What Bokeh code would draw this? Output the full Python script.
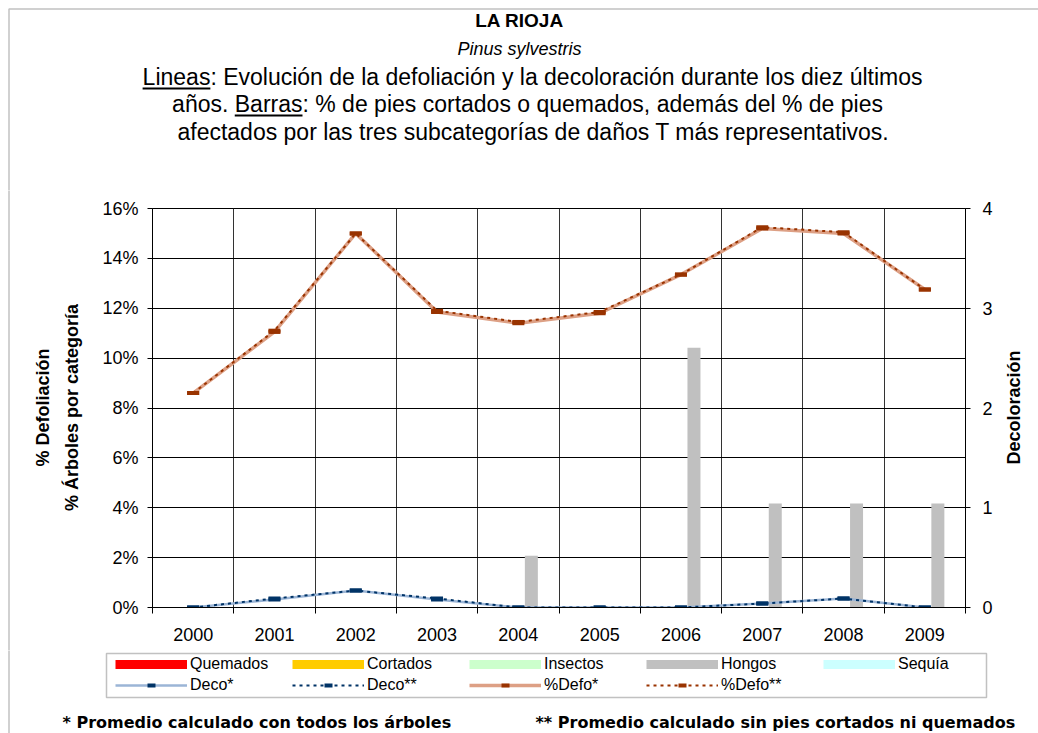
from bokeh.plotting import figure
from bokeh.layouts import column, row
from bokeh.models import (Range1d, LinearAxis, FixedTicker, Label, BoxAnnotation,
                          Legend, LegendItem, CustomJSTickFormatter)
from bokeh.embed import file_html
from bokeh.resources import INLINE
import math

# ---------------- data ----------------
years = ["2000", "2001", "2002", "2003", "2004", "2005", "2006", "2007", "2008", "2009"]

quemados = [0, 0, 0, 0, 0, 0, 0, 0, 0, 0]
cortados = [0, 0, 0, 0, 0, 0, 0, 0, 0, 0]
insectos = [0, 0, 0, 0, 0, 0, 0, 0, 0, 0]
hongos = [0, 0, 0, 0, 2.08, 0, 10.42, 4.17, 4.17, 4.17]
sequia = [0, 0, 0, 0, 0, 0, 0, 0, 0, 0]

deco_todos = [0.0, 0.08, 0.17, 0.08, 0.0, 0.0, 0.0, 0.04, 0.09, 0.0]
deco_sin = [0.0, 0.09, 0.17, 0.09, 0.0, 0.0, 0.0, 0.04, 0.09, 0.0]
defo_todos = [8.6, 11.05, 15.0, 11.85, 11.4, 11.8, 13.35, 15.2, 15.0, 12.75]
defo_sin = [8.6, 11.1, 15.0, 11.9, 11.45, 11.85, 13.35, 15.25, 15.05, 12.75]

pct_ticks = [0, 2, 4, 6, 8, 10, 12, 14, 16]
deco_ticks = [0, 1, 2, 3, 4]

bar_names = ["Quemados", "Cortados", "Insectos", "Hongos", "Sequía"]
bar_colors = ["#FF0000", "#FFCC00", "#CCFFCC", "#C0C0C0", "#CCFFFF"]
bar_values = [quemados, cortados, insectos, hongos, sequia]

# ---------------- page layout (pixels) ----------------
PW, PH = 1038, 733
TOP_H = 190            # title block
MID_TOP, MID_BOT = 190, 650
LW, MW, RW = 90, 910, 38
FL, FR, FT, FB = 152, 965, 208, 607   # plot area in page pixels
NCAT = len(years)
FONT = "Liberation Sans"
BORDER = "#333333"
NAVY = "#003366"
BROWN = "#993300"


def blank_fig(w, h):
    f = figure(width=w, height=h, title=None, x_range=Range1d(0, w), y_range=Range1d(0, h),
               x_axis_type=None, y_axis_type=None, output_backend="svg",
               toolbar_location=None, min_border=0, frame_align=False)
    f.outline_line_color = None
    f.background_fill_color = "white"
    f.border_fill_color = "white"
    return f


def add_label(f, text, x, y, size, style="normal", align="left", baseline="middle",
              angle=0.0, font=FONT):
    f.add_layout(Label(x=x, y=y, text=text, text_font=font, text_font_size=size,
                       text_font_style=style, text_align=align, text_baseline=baseline,
                       angle=angle, text_color="black"))


# ================= title block =================
T = blank_fig(PW, TOP_H)


def ty(y):
    return TOP_H - y


add_label(T, "LA RIOJA", 519, ty(20), "19px", "bold", "center")
add_label(T, "Pinus sylvestris", 519, ty(48), "18px", "italic", "center")
DS = 23
line1 = "Lineas: Evolución de la defoliación y la decoloración durante los diez últimos"
line2 = "años. Barras: % de pies cortados o quemados, además del % de pies"
line3 = "afectados por las tres subcategorías de daños T más representativos."
l1_left = 532 - 33.904 * DS / 2
l2_left = 527 - 30.904 * DS / 2
add_label(T, line1, l1_left, ty(76), f"{DS}px")
add_label(T, line2, l2_left, ty(103), f"{DS}px")
add_label(T, line3, 533, ty(131), f"{DS}px", align="center")
u1_right = l1_left + 2.946 * DS
u2_left = l2_left + 2.724 * DS
u2_right = u2_left + 2.945 * DS
T.add_layout(BoxAnnotation(left=l1_left, right=u1_right, top=ty(87), bottom=ty(89),
                           fill_color="black", fill_alpha=1, line_color=None))
T.add_layout(BoxAnnotation(left=u2_left, right=u2_right, top=ty(114), bottom=ty(116),
                           fill_color="black", fill_alpha=1, line_color=None))
T.add_layout(BoxAnnotation(left=8.5, right=PW + 50, top=ty(8.5), bottom=ty(PH + 50),
                           fill_alpha=0, line_color=BORDER, line_width=1.5))

# ================= left titles =================
MID_H = MID_BOT - MID_TOP
L = blank_fig(LW, MID_H)
add_label(L, "% Defoliación", 42, MID_BOT - 407, "18px", "bold", "center", "middle", math.pi / 2)
add_label(L, "% Árboles por categoría", 71, MID_BOT - 407, "18px", "bold", "center", "middle",
          math.pi / 2)
L.add_layout(BoxAnnotation(left=8.5, right=PW, top=MID_H + 50, bottom=-50,
                           fill_alpha=0, line_color=BORDER, line_width=1.5))

# ================= right title =================
R = blank_fig(RW, MID_H)
add_label(R, "Decoloración", 1013 - (LW + MW), MID_BOT - 407, "18px", "bold", "center",
          "middle", math.pi / 2)

# ================= main chart =================
YMAX = pct_ticks[-1]
p = figure(width=MW, height=MID_H, title=None,
           x_range=Range1d(0, NCAT), y_range=Range1d(0, YMAX),
           output_backend="svg", toolbar_location=None, frame_align=False,
           min_border_left=FL - LW, min_border_right=(LW + MW) - FR,
           min_border_top=FT - MID_TOP, min_border_bottom=MID_BOT - FB)
p.background_fill_color = "white"
p.border_fill_color = "white"
p.outline_line_color = "black"

centers = [i + 0.5 for i in range(NCAT)]
bounds = list(range(NCAT + 1))

xa = p.xaxis[0]
xa.ticker = FixedTicker(ticks=centers, minor_ticks=bounds)
xa.formatter = CustomJSTickFormatter(args=dict(labels=years), code="""
const i = Math.round(tick - 0.5);
return (i >= 0 && i < labels.length) ? labels[i] : '';
""")
xa.major_tick_out = 0
xa.major_tick_in = 0
xa.minor_tick_out = 6
xa.minor_tick_in = 0
xa.minor_tick_line_color = "black"
xa.axis_line_color = "black"
xa.major_label_text_font = FONT
xa.major_label_text_font_size = "18px"
xa.major_label_text_color = "black"
xa.major_label_standoff = 14

ya = p.yaxis[0]
ya.ticker = FixedTicker(ticks=pct_ticks)
ya.formatter = CustomJSTickFormatter(code="return tick.toFixed(0) + '%';")
ya.major_tick_out = 5
ya.major_tick_in = 0
ya.minor_tick_line_color = None
ya.axis_line_color = "black"
ya.major_tick_line_color = "black"
ya.major_label_text_font = FONT
ya.major_label_text_font_size = "18px"
ya.major_label_text_color = "black"
ya.major_label_standoff = 9

p.extra_y_ranges = {"deco": Range1d(0, deco_ticks[-1])}
ra = LinearAxis(y_range_name="deco", ticker=FixedTicker(ticks=deco_ticks))
ra.major_tick_out = 5
ra.major_tick_in = 0
ra.minor_tick_line_color = None
ra.axis_line_color = "black"
ra.major_tick_line_color = "black"
ra.major_label_text_font = FONT
ra.major_label_text_font_size = "18px"
ra.major_label_text_color = "black"
ra.major_label_standoff = 12
p.add_layout(ra, "right")

p.xgrid.ticker = FixedTicker(ticks=bounds)
p.xgrid.grid_line_color = "#333333"
p.ygrid.ticker = FixedTicker(ticks=pct_ticks)
p.ygrid.grid_line_color = "black"

BW = 0.16
for k, (vals, col) in enumerate(zip(bar_values, bar_colors)):
    xs = [c + (k - 2) * BW for c in centers]
    p.vbar(x=xs, top=vals, width=BW, fill_color=col, line_color=None)

line_styles = [
    ("Deco*", deco_todos, "deco", dict(line_color="#9BB5D6", line_width=2.5), NAVY),
    ("Deco**", deco_sin, "deco", dict(line_color=NAVY, line_width=2, line_dash="3 4"), NAVY),
    ("%Defo*", defo_todos, "default", dict(line_color="#DDA085", line_width=3.5), BROWN),
    ("%Defo**", defo_sin, "default", dict(line_color=BROWN, line_width=2, line_dash="3 4"), BROWN),
]
for name, vals, rng, lstyle, mcol in line_styles:
    p.line(centers, vals, y_range_name=rng, **lstyle)
    p.scatter(centers, vals, y_range_name=rng, marker="dash", size=12, line_width=4,
              line_color=mcol)

# ================= bottom: legend + footnotes =================
BH = PH - MID_BOT
B = blank_fig(PW, BH)


def by(y):
    return PH - y


# legend sample glyphs: kept outside the visible range of this strip
OFF_X = [-100, -90]
OFF_Y = [-100, -100]
items = []
for name, col in zip(bar_names, bar_colors):
    sw = B.line(x=OFF_X, y=OFF_Y, line_color=col, line_width=9)
    items.append(LegendItem(label=name, renderers=[sw]))
for name, vals, rng, lstyle, mcol in line_styles:
    lr = B.line(x=OFF_X, y=OFF_Y, **lstyle)
    mr = B.scatter(x=OFF_X, y=OFF_Y, marker="dash", size=12, line_width=4, line_color=mcol)
    items.append(LegendItem(label=name, renderers=[lr, mr]))

GH = 20
SP = 1
leg = Legend(items=items, orientation="horizontal", ncols=5,
             glyph_width=72, glyph_height=GH, label_standoff=3, label_width=101,
             label_height=GH, spacing=SP, padding=0, margin=0,
             label_text_font=FONT, label_text_font_size="16px",
             label_text_color="black",
             border_line_color=None, background_fill_alpha=0)
leg_h = 2 * GH + SP
leg_top_local = 654 - MID_BOT
leg.location = (115, BH - leg_top_local - leg_h)
B.add_layout(leg, "center")

B.add_layout(BoxAnnotation(left=106, right=986, top=by(653), bottom=by(697),
                           fill_alpha=0, line_color=BORDER, line_width=1.5))
B.add_layout(BoxAnnotation(left=8.5, right=PW + 50, top=BH + 50, bottom=-50,
                           fill_alpha=0, line_color=BORDER, line_width=1.5))

add_label(B, "* Promedio calculado con todos los árboles", 62, by(722), "16px", "bold",
          "left", "middle", font="DejaVu Sans")
add_label(B, "** Promedio calculado sin pies cortados ni quemados", 535, by(722), "16px",
          "bold", "left", "middle", font="DejaVu Sans")

layout = column(T, row(L, p, R), B)
open("out.html", "w").write(file_html(layout, INLINE))
